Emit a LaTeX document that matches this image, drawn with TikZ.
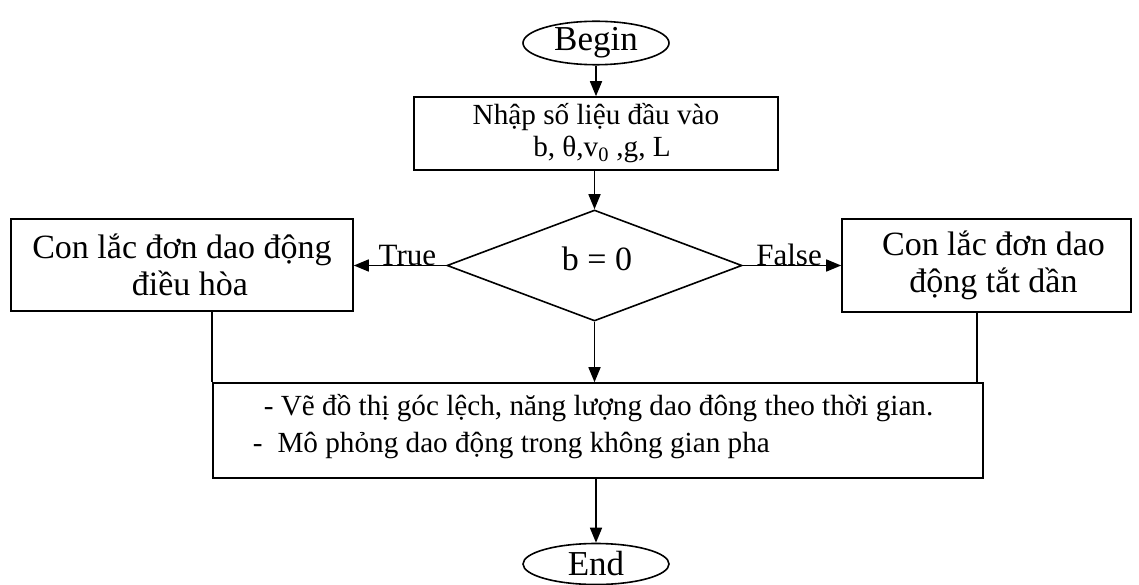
\documentclass[tikz,border=0pt]{standalone}
\usepackage{fontspec}
\setmainfont{Liberation Serif}
\usetikzlibrary{shapes.geometric,arrows.meta}
\begin{document}
\begin{tikzpicture}[x=1pt,y=-1pt,
  line width=1.6pt,
  boxnode/.style={draw, rectangle, inner sep=0pt, align=center},
  term/.style={draw, ellipse, minimum width=146pt, minimum height=41pt, inner sep=0pt, font=\fontsize{35}{39}\selectfont},
  arr/.style={-{Triangle[length=15pt,width=12pt]}},
  bigtext/.style={font=\fontsize{34}{37}\selectfont},
  smalltext/.style={font=\fontsize{29.2}{32}\selectfont},
  lbl/.style={anchor=base, inner sep=0pt, font=\fontsize{31}{35}\selectfont}]
\useasboundingbox (0,0) rectangle (1139,585);
\node[term] (begin) at (596,43) {Begin};
\node[boxnode, smalltext, minimum width=364pt, minimum height=73pt] (input) at (596,133.5)
  {Nhập số liệu đầu vào\\ \hspace*{12pt}b, θ,v\textsubscript{0} ,g, L};
\node[draw, diamond, minimum width=295pt, minimum height=111pt, inner sep=0pt, shape aspect=2.6] (dec) at (594.5,265.5) {};
\node[font=\fontsize{34}{37}\selectfont, anchor=base, inner sep=0pt] (dectext) at (597,270) {b = 0};
\node[boxnode, bigtext, minimum width=342pt, minimum height=92pt] (lbox) at (182,265)
  {Con lắc đơn dao động\\\hspace*{16pt}điều hòa};
\node[boxnode, bigtext, minimum width=289pt, minimum height=93pt] (rbox) at (986.5,265.5)
  {\hspace*{14pt}Con lắc đơn dao\\\hspace*{14pt}động tắt dần};
\node[boxnode, minimum width=770pt, minimum height=95pt] (big) at (598,430.5) {};
\node[smalltext, anchor=base west, inner sep=0pt] (l1) at (263,415)
  {- Vẽ đồ thị góc lệch, năng lượng dao đông theo thời gian.};
\node[smalltext, anchor=base west, inner sep=0pt] (l2) at (252,452)
  {-\hspace{15pt}Mô phỏng dao động trong không gian pha};
\node[term] (end) at (596,564) {End};
\coordinate (rj) at (977,0);
\draw[arr] (begin) -- (begin.south |- input.north);
\draw[arr] (input.south -| dec.north) -- (dec.north);
\draw[arr] (dec.west) -- (dec.west -| lbox.east) node[lbl, pos=0.42] {True};
\draw[arr] (dec.east) -- (dec.east -| rbox.west) node[lbl, pos=0.47] {False};
\draw[arr] (dec.south) -- (dec.south |- big.north);
\draw (lbox.south -| big.west) -- (big.north west);
\draw (rbox.south -| rj) -- (big.north -| rj);
\draw[arr] (big.south -| end.north) -- (end.north);
\end{tikzpicture}
\end{document}
